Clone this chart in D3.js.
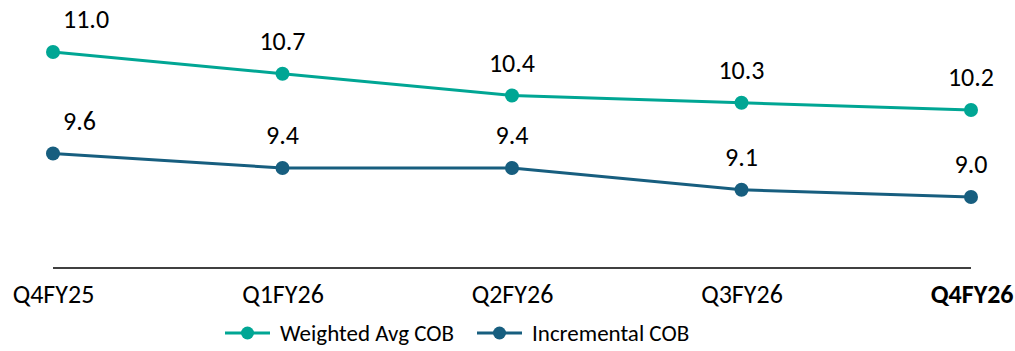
<!DOCTYPE html>
<html lang="en">
<head>
	<meta charset="UTF-8">
	<title>COB</title>
	<script src="https://cdn.jsdelivr.net/npm/d3@7"></script>
	<style>
		*{ margin: 0px; box-sizing: border-box; }
		html,body{ width:1015px; height:351px; overflow:hidden; background:#fff; }
		text{ font-family: Carlito, Calibri, sans-serif; fill:#000; }
		.xAxis path, .xAxis line{ stroke:none; }
	</style>
</head>
<body>
	<svg id="svg"></svg>
	<script>
		var quarters = ["Q4FY25", "Q1FY26", "Q2FY26", "Q3FY26", "Q4FY26"];
		var weightedAvg = [11.0, 10.7, 10.4, 10.3, 10.2];
		var incremental = [9.6, 9.4, 9.4, 9.1, 9.0];
		var seriesNames = ["Weighted Avg COB", "Incremental COB"];
		var colors = ["#00A694", "#175E7F"];

		var w = 1015, h = 351;
		var svg = d3.select("#svg").attr("width", w).attr("height", h);

		var x = d3.scalePoint().domain(quarters).range([53, 971]);
		var y = d3.scaleLinear().domain([9.0, 11.0]).range([197, 52]);

		// baseline
		svg.append("line")
			.attr("x1", x(quarters[0])).attr("x2", x(quarters[quarters.length - 1]))
			.attr("y1", 268).attr("y2", 268)
			.attr("stroke", "#000").attr("stroke-width", 1.5);

		var xAxis = svg.append("g").attr("class", "xAxis")
			.attr("transform", "translate(0,268)")
			.call(d3.axisBottom(x).tickSize(0));
		xAxis.selectAll("text")
			.style("font-size", "26px")
			.style("font-family", "Carlito, Calibri, sans-serif")
			.attr("y", 35)
			.attr("dy", 0);
		xAxis.selectAll(".tick").filter(function(d, i) { return i == quarters.length - 1; })
			.select("text")
			.style("font-weight", "bold")
			.attr("text-anchor", "end")
			.attr("x", w - 2 - x(quarters[quarters.length - 1]));

		var line = d3.line()
			.x(function(d, i) { return x(quarters[i]); })
			.y(function(d) { return y(d); });

		[weightedAvg, incremental].forEach(function(series, s) {
			svg.append("path")
				.datum(series)
				.attr("d", line)
				.attr("fill", "none")
				.attr("stroke", colors[s])
				.attr("stroke-width", 3);

			svg.selectAll(".pt" + s)
				.data(series)
				.enter().append("circle")
				.attr("class", "pt" + s)
				.attr("cx", function(d, i) { return x(quarters[i]); })
				.attr("cy", function(d) { return y(d); })
				.attr("r", 7)
				.attr("fill", colors[s]);

			svg.selectAll(".lbl" + s)
				.data(series)
				.enter().append("text")
				.attr("class", "lbl" + s)
				.attr("x", function(d, i) { return i == 0 ? x(quarters[i]) + 10 : x(quarters[i]); })
				.attr("y", function(d) { return y(d) - 24; })
				.attr("text-anchor", function(d, i) { return i == 0 ? "start" : "middle"; })
				.style("font-size", "26px")
				.text(function(d) { return d.toFixed(1); });
		});

		// legend
		var legendX = [225, 477];
		seriesNames.forEach(function(name, s) {
			var g = svg.append("g").attr("transform", "translate(" + legendX[s] + ",333)");
			g.append("line").attr("x1", 0).attr("x2", 45).attr("y1", 0).attr("y2", 0)
				.attr("stroke", colors[s]).attr("stroke-width", 3);
			g.append("circle").attr("cx", 22.5).attr("cy", 0).attr("r", 6.5).attr("fill", colors[s]);
			g.append("text").attr("x", 55).attr("y", 0).attr("dy", "0.35em")
				.style("font-size", "23px")
				.text(name);
		});
	</script>
</body>
</html>
